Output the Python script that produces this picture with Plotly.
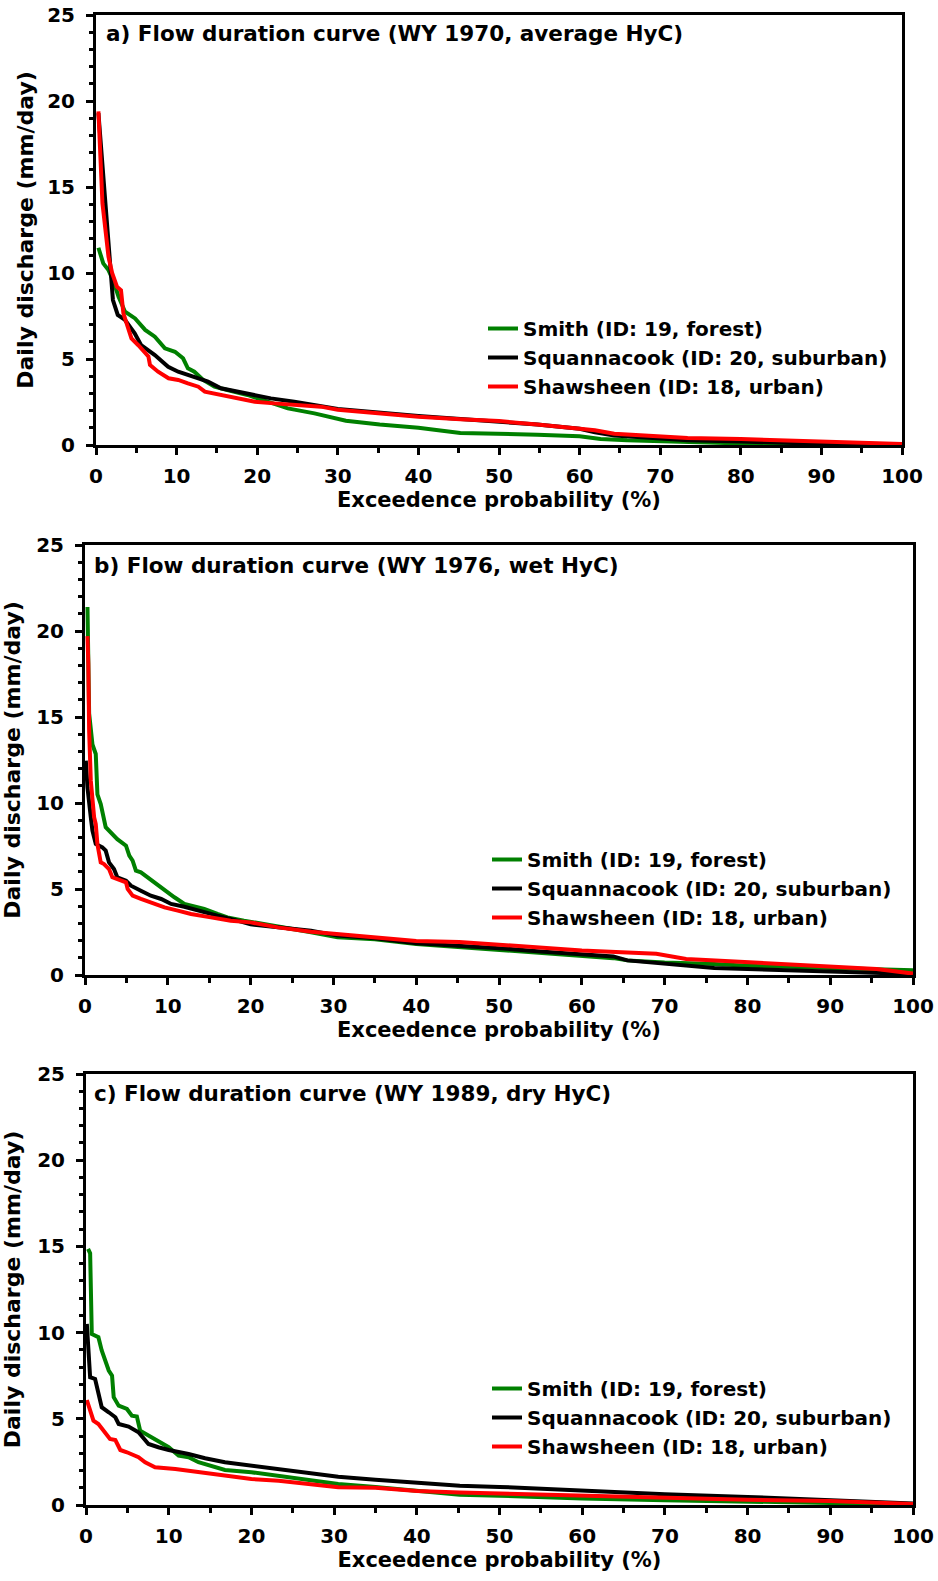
import plotly.graph_objects as go

W, H = 938, 1581

# ---------------- data ----------------
series_names = ["Smith (ID: 19, forest)", "Squannacook (ID: 20, suburban)", "Shawsheen (ID: 18, urban)"]
series_colors = ["#008000", "#000000", "#ff0000"]
panel_titles = [
    "a) Flow duration curve (WY 1970, average HyC)",
    "b) Flow duration curve (WY 1976, wet HyC)",
    "c) Flow duration curve (WY 1989, dry HyC)",
]
x_ticks = [0, 10, 20, 30, 40, 50, 60, 70, 80, 90, 100]
y_ticks = [0, 5, 10, 15, 20, 25]

# Panel a (WY 1970)
a_smith_x = [0.3, 0.9, 1.55, 2.1, 2.8, 3.6, 4.85, 6.1, 7.3, 8.55, 9.8, 10.8, 11.4, 12.2, 13.3, 14.7, 16.3, 18.8, 21.3, 23.8, 27.1, 31, 35.2, 40, 45.2, 50, 54.75, 60, 62.6, 65.9, 70, 75, 82.4, 100]
a_smith_y = [11.47, 10.56, 10.17, 9.6, 8.62, 7.75, 7.36, 6.69, 6.3, 5.62, 5.42, 5.04, 4.46, 4.26, 3.78, 3.39, 3.2, 2.91, 2.52, 2.13, 1.84, 1.41, 1.19, 1.0, 0.70, 0.66, 0.6, 0.51, 0.35, 0.27, 0.21, 0.12, 0.06, 0.02]
a_squan_x = [0.3, 1.1, 1.7, 2.1, 2.7, 3.6, 4.8, 5.6, 7.3, 8.95, 10.2, 12.2, 13.9, 15.5, 17.6, 19.7, 21.7, 24.6, 27.9, 30, 40, 45.2, 50, 54.75, 60, 61.9, 64.3, 68.5, 73.4, 80, 86.5, 100]
a_squan_y = [19.3, 14.3, 11.3, 8.43, 7.56, 7.27, 6.5, 5.8, 5.23, 4.55, 4.26, 3.97, 3.68, 3.3, 3.1, 2.91, 2.71, 2.52, 2.27, 2.1, 1.68, 1.52, 1.39, 1.19, 0.94, 0.74, 0.55, 0.41, 0.27, 0.2, 0.12, 0.04]
a_shaw_x = [0.3, 0.8, 1.55, 2.0, 2.6, 3.1, 3.4, 3.8, 4.4, 5.25, 6.1, 6.5, 6.7, 7.7, 9.0, 10.2, 11.4, 12.7, 13.5, 15.5, 17.6, 19.7, 22.1, 24.6, 27.9, 30, 35, 40, 45.2, 50, 54.75, 60, 61.9, 64.3, 68.5, 73.4, 80, 85, 90, 94.8, 100]
a_shaw_y = [19.4, 14.05, 10.95, 10.0, 9.2, 9.0, 7.65, 7.07, 6.2, 5.8, 5.33, 5.15, 4.65, 4.26, 3.88, 3.78, 3.58, 3.39, 3.1, 2.91, 2.71, 2.52, 2.42, 2.33, 2.23, 2.05, 1.82, 1.64, 1.5, 1.39, 1.19, 0.94, 0.86, 0.66, 0.55, 0.41, 0.35, 0.27, 0.18, 0.12, 0.06]

# Panel b (WY 1976)
b_smith_x = [0.3, 0.5, 0.9, 1.3, 1.5, 1.9, 2.5, 3.1, 3.9, 4.95, 5.35, 5.75, 6.15, 6.75, 7.55, 8.4, 9.6, 10.8, 12, 13, 14.4, 16, 17.2, 19.2, 21.6, 24.9, 27.3, 30.5, 35, 40, 45.2, 50, 55, 60, 63.8, 65.5, 70, 76, 80, 90, 95.6, 100]
b_smith_y = [21.4, 15.2, 13.4, 12.85, 10.5, 9.94, 8.59, 8.29, 7.9, 7.52, 6.94, 6.65, 6.07, 5.97, 5.68, 5.39, 4.9, 4.52, 4.13, 4.03, 3.84, 3.55, 3.35, 3.16, 2.97, 2.67, 2.48, 2.19, 2.08, 1.8, 1.62, 1.47, 1.31, 1.12, 0.98, 0.85, 0.73, 0.64, 0.54, 0.41, 0.35, 0.27]
b_squan_x = [0.1, 0.3, 0.7, 0.9, 1.3, 2.1, 2.5, 2.9, 3.5, 3.9, 4.95, 5.55, 6.75, 7.95, 9.2, 10.4, 12, 13.6, 16, 18.4, 20, 23.3, 27.3, 30.5, 35, 40, 45.2, 50, 55, 60, 63.8, 65.5, 70, 76, 80, 85.5, 90, 95.6, 100]
b_squan_y = [12.46, 10.9, 9.17, 8.39, 7.62, 7.42, 7.23, 6.55, 6.16, 5.68, 5.48, 5.19, 4.9, 4.61, 4.42, 4.13, 3.97, 3.74, 3.45, 3.16, 2.95, 2.77, 2.58, 2.29, 2.14, 1.85, 1.72, 1.56, 1.37, 1.18, 1.08, 0.85, 0.66, 0.41, 0.35, 0.27, 0.21, 0.15, 0.06]
b_shaw_x = [0.3, 0.4, 0.5, 0.7, 1.1, 1.3, 1.5, 1.9, 2.3, 2.9, 3.3, 4.35, 4.95, 5.15, 5.75, 6.75, 7.95, 9.6, 11.2, 12.8, 15.2, 17.6, 20, 23.3, 27.3, 30.5, 35, 40, 45.2, 50, 55, 60, 65.5, 69, 72.6, 80, 85.5, 90, 95.6, 100]
b_shaw_y = [19.7, 18.1, 14.2, 11.3, 9.17, 8.78, 7.6, 6.55, 6.45, 6.16, 5.68, 5.48, 5.39, 5.0, 4.61, 4.42, 4.22, 3.93, 3.74, 3.55, 3.35, 3.16, 3.06, 2.77, 2.52, 2.38, 2.2, 1.98, 1.92, 1.76, 1.56, 1.43, 1.31, 1.24, 0.93, 0.73, 0.6, 0.5, 0.35, 0.08]

# Panel c (WY 1989)
c_smith_x = [0.25, 0.5, 0.7, 1.5, 1.9, 2.75, 3.15, 3.35, 3.95, 4.95, 5.55, 6.15, 6.55, 7.55, 8.75, 10.0, 11.2, 12.4, 13.6, 15.2, 16.8, 20, 23.3, 26.5, 30.5, 35, 40, 45.2, 50, 60, 70, 80, 90, 100]
c_smith_y = [14.85, 14.6, 9.92, 9.73, 8.96, 7.8, 7.5, 6.25, 5.76, 5.57, 5.18, 5.13, 4.31, 4.02, 3.73, 3.35, 2.86, 2.77, 2.48, 2.28, 2.03, 1.9, 1.7, 1.51, 1.22, 1.05, 0.85, 0.6, 0.54, 0.37, 0.27, 0.17, 0.12, 0.04]
c_squan_x = [0.1, 0.5, 1.1, 1.9, 2.75, 3.55, 3.95, 5.15, 6.35, 7.55, 8.75, 10, 12.4, 14.4, 16.8, 19.2, 21.6, 24.9, 28.1, 30.5, 35, 40, 45.2, 50, 60, 70, 80, 90, 100]
c_squan_y = [10.5, 7.41, 7.31, 5.67, 5.38, 5.09, 4.7, 4.55, 4.22, 3.54, 3.35, 3.19, 2.96, 2.71, 2.48, 2.34, 2.15, 1.95, 1.8, 1.64, 1.47, 1.28, 1.12, 1.05, 0.81, 0.62, 0.47, 0.27, 0.08]
c_shaw_x = [0.1, 0.9, 1.5, 2.1, 2.9, 3.55, 4.15, 4.95, 6.35, 7.15, 8.35, 10.8, 12.4, 15.2, 16.8, 20, 23.3, 26.5, 30.5, 35, 40, 45.2, 50, 60, 70, 80, 90, 100]
c_shaw_y = [6.09, 4.89, 4.7, 4.35, 3.83, 3.77, 3.19, 3.06, 2.77, 2.48, 2.19, 2.09, 1.99, 1.8, 1.7, 1.51, 1.41, 1.26, 1.03, 1.0, 0.81, 0.72, 0.66, 0.54, 0.43, 0.31, 0.23, 0.06]

panels = [
    [(a_smith_x, a_smith_y), (a_squan_x, a_squan_y), (a_shaw_x, a_shaw_y)],
    [(b_smith_x, b_smith_y), (b_squan_x, b_squan_y), (b_shaw_x, b_shaw_y)],
    [(c_smith_x, c_smith_y), (c_squan_x, c_squan_y), (c_shaw_x, c_shaw_y)],
]

# ---------------- layout geometry (window pixels) ----------------
FONT = "DejaVu Sans"
boxes = [(96, 902, 15, 445), (85, 913, 545, 975), (86, 913, 1074, 1505)]  # left, right, top, bottom
legend_pos = [(483, 309), (487, 840), (487, 1369)]
title_pos = [(104, 34), (92, 565), (92, 1093)]
ytitle_standoff = [8, 12, 12]


def px(v):
    return v / W


def py(v):
    return 1 - v / H


fig = go.Figure()
layout = dict(
    template="none",
    width=W, height=H, margin=dict(l=0, r=0, t=0, b=0, autoexpand=False),
    paper_bgcolor="white", plot_bgcolor="white",
    font=dict(family=FONT, color="black"),
    annotations=[],
)

for i, (box, series) in enumerate(zip(boxes, panels)):
    l, r, t, b = box
    sfx = "" if i == 0 else str(i + 1)
    xa, ya = "xaxis" + sfx, "yaxis" + sfx
    xref, yref = "x" + sfx, "y" + sfx
    leg = "legend" + sfx
    for (xs, ys), name, col in zip(series, series_names, series_colors):
        fig.add_trace(go.Scatter(
            x=xs, y=ys, mode="lines", name=name,
            line=dict(color=col, width=4),
            xaxis=xref, yaxis=yref, legend=leg, showlegend=True,
        ))
    common = dict(
        automargin=False, ticklabeloverflow="allow",
        showline=True, linewidth=3, linecolor="black", mirror=True,
        showgrid=False, zeroline=False, ticks="outside", tickwidth=2.5,
        tickcolor="black", ticklen=7,
        tickfont=dict(family=FONT, size=20, color="black", weight="bold"),
    )
    layout[xa] = dict(
        common, domain=[px(l), px(r)], anchor=yref, range=[0, 100],
        tickvals=x_ticks, ticklabelstandoff=4,
        minor=dict(dtick=5, ticks="outside", ticklen=5, tickwidth=2.5, tickcolor="black"),
        title=dict(text="Exceedence probability (%)", standoff=6,
                   font=dict(family=FONT, size=21, weight="bold")),
    )
    layout[ya] = dict(
        common, domain=[py(b), py(t)], anchor=xref, range=[0, 25],
        tickvals=y_ticks, ticklabelstandoff=7,
        minor=dict(dtick=1, ticks="outside", ticklen=4, tickwidth=2.5, tickcolor="black"),
        title=dict(text="Daily discharge (mm/day)", standoff=ytitle_standoff[i],
                   font=dict(family=FONT, size=22, weight="bold")),
    )
    lx, ly = legend_pos[i]
    layout[leg] = dict(
        x=px(lx), y=py(ly), xanchor="left", yanchor="top",
        bgcolor="rgba(0,0,0,0)", itemwidth=30, tracegroupgap=0,
        font=dict(family=FONT, size=20, color="black", weight="bold"),
    )
    tx, ty = title_pos[i]
    layout["annotations"].append(dict(
        text=panel_titles[i], x=px(tx), y=py(ty), xref="paper", yref="paper",
        xanchor="left", yanchor="middle", showarrow=False,
        font=dict(family=FONT, size=21.5, color="black", weight="bold"),
    ))

fig.update_layout(**layout)
# remove the default 8px page margin so the figure fills the window exactly
fig.write_html(
    "out.html",
    config={"displayModeBar": False},
    post_script="document.body.style.margin='0';document.body.style.overflow='hidden';",
)
